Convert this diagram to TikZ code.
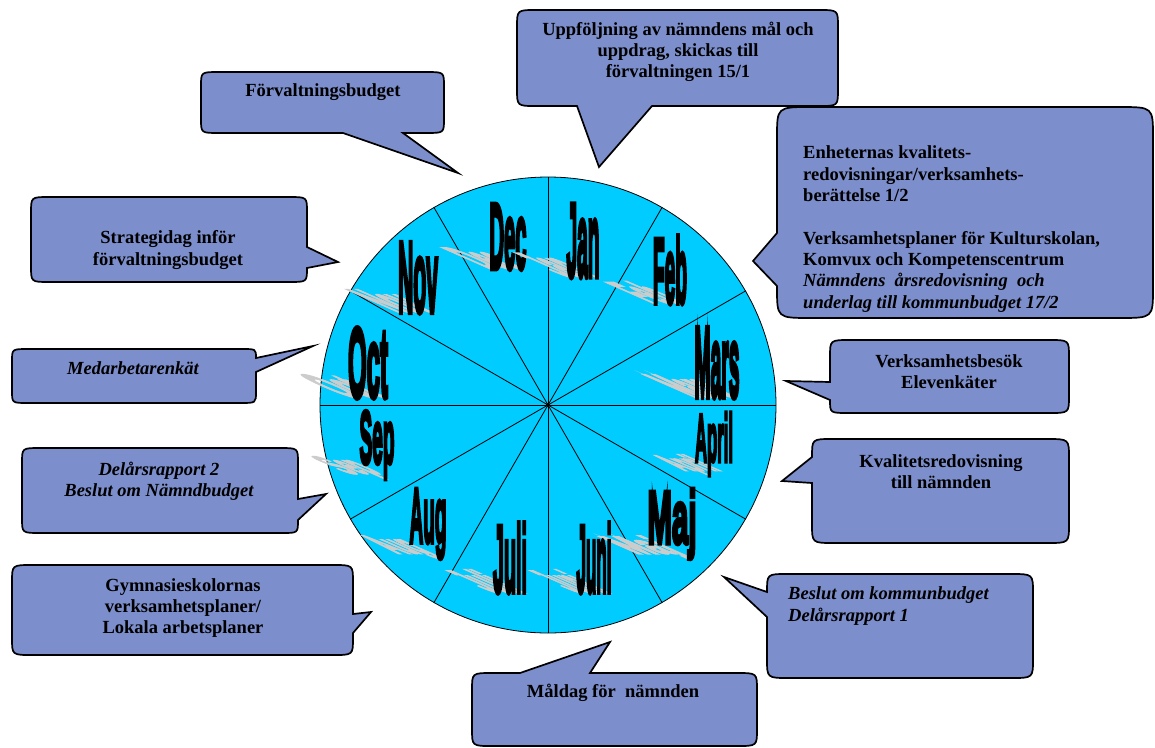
\documentclass[tikz,border=0pt]{standalone}
\usepackage{fontspec}
\setmainfont{Liberation Serif}
\newfontfamily\monthfont[FakeBold=6, BoldFeatures={FakeBold=6}]{Liberation Sans}
\usepackage{tikz}
\usetikzlibrary{calc}
\definecolor{wheelblue}{RGB}{0,204,255}
\definecolor{bubbleblue}{RGB}{124,142,203}

\begin{document}
\begin{tikzpicture}[x=1pt, y=-1pt,
    bubble/.style={draw=black, line width=1.7pt, fill=bubbleblue, line join=miter},
    note/.style={align=center, inner sep=0pt,
      font=\bfseries\fontsize{18.5}{21.3}\selectfont},
    month/.style={inner sep=0pt, font=\monthfont\bfseries},
    month shadow/.style={month, anchor=south, text=gray!40, yscale=.33, xslant=-.75}]
    \useasboundingbox (0,0) rectangle (1155,747);

    % Uppföljning
    \draw[bubble] (678,10) -- (819,10) .. controls (838,10) .. (838,27) -- (838,89)
      .. controls (838,106) .. (819,106) -- (652,106) -- (599,167) -- (577,106)
      -- (536,106) .. controls (517,106) .. (517,89) -- (517,27)
      .. controls (517,10) .. (536,10) -- cycle;
    \node[note] (upp) at (678,52) {Uppföljning av nämndens mål och\\uppdrag, skickas till\\förvaltningen 15/1};

    % Förvaltningsbudget
    \draw[bubble] (320,72) -- (426,72) .. controls (444,72) .. (444,86) -- (444,119)
      .. controls (444,133) .. (426,133) -- (403,133) -- (458,173) -- (343,133)
      -- (219,133) .. controls (201,133) .. (201,119) -- (201,86)
      .. controls (201,72) .. (219,72) -- cycle;
    \node[note] (fbudget) at (323,92) {Förvaltningsbudget};

    % Strategidag
    \draw[bubble] (170,197) -- (289,197) .. controls (307,197) .. (307,212) -- (307,247)
      -- (338,262) -- (307,268) -- (307,268) .. controls (307,282) .. (289,282)
      -- (49,282) .. controls (31,282) .. (31,266) -- (31,213)
      .. controls (31,197) .. (49,197) -- cycle;
    \node[note] (strat) at (168,250) {Strategidag inför\\förvaltningsbudget};

    % Medarbetarenkät
    \draw[bubble] (134,349) -- (242,349) .. controls (256,349) .. (256,358) -- (313,346)
      -- (256,372) -- (256,392) .. controls (256,403) .. (240,403)
      -- (28,403) .. controls (12,403) .. (12,391) -- (12,361)
      .. controls (12,349) .. (28,349) -- cycle;
    \node[note, font=\bfseries\itshape\fontsize{18.5}{21.3}\selectfont] (enkat) at (133,368) {Medarbetarenkät};

    % Delårsrapport 2
    \draw[bubble] (160,448) -- (280,448) .. controls (298,448) .. (298,463) -- (298,499)
      -- (326,494) -- (298,520) .. controls (298,533) .. (282,533)
      -- (40,533) .. controls (22,533) .. (22,518) -- (22,463)
      .. controls (22,448) .. (40,448) -- cycle;
    \node[note, font=\bfseries\itshape\fontsize{18.5}{21.3}\selectfont] (delar) at (159,481) {Delårsrapport 2\\Beslut om Nämndbudget};

    % Gymnasieskolornas
    \draw[bubble] (180,565) -- (333,565) .. controls (353,565) .. (353,582) -- (353,614)
      -- (371,612) -- (353,633) -- (353,638) .. controls (353,655) .. (333,655)
      -- (32,655) .. controls (12,655) .. (12,638) -- (12,582)
      .. controls (12,565) .. (32,565) -- cycle;
    \node[note] (gymn) at (183,608) {Gymnasieskolornas\\verksamhetsplaner/\\Lokala arbetsplaner};

    % Måldag
    \draw[bubble] (680,673) -- (737,673) .. controls (757,673) .. (757,690) -- (757,729)
      .. controls (757,746) .. (737,746) -- (492,746) .. controls (472,746) .. (472,729)
      -- (472,690) .. controls (472,673) .. (492,673) -- (520,673) -- (610,642)
      -- (590,673) -- cycle;
    \node[note] (maldag) at (613,693) {Måldag för\ \ nämnden};

    % Beslut om kommunbudget
    \draw[bubble] (900,574) -- (1011,574) .. controls (1033,574) .. (1033,593) -- (1033,659)
      .. controls (1033,678) .. (1011,678) -- (789,678) .. controls (767,678) .. (767,659)
      -- (767,617) -- (724,577) -- (767,592) .. controls (767,574) .. (787,574) -- cycle;
    \node[note, align=left, anchor=west, font=\bfseries\itshape\fontsize{18.5}{21.3}\selectfont] (kbudget) at (788,606) {Beslut om kommunbudget\\Delårsrapport 1};

    % Kvalitetsredovisning
    \draw[bubble] (940,439) -- (1047,439) .. controls (1069,439) .. (1069,458) -- (1069,524)
      .. controls (1069,543) .. (1047,543) -- (834,543) .. controls (812,543) .. (812,524)
      -- (812,483) -- (782,481) -- (812,457) .. controls (812,439) .. (832,439) -- cycle;
    \node[note] (kval) at (941,472) {Kvalitetsredovisning\\till nämnden};

    % Verksamhetsbesök
    \draw[bubble] (950,340) -- (1049,340) .. controls (1069,340) .. (1069,357) -- (1069,396)
      .. controls (1069,413) .. (1049,413) -- (848,413) .. controls (830,413) .. (830,400)
      -- (786,381) -- (830,382) -- (830,357) .. controls (830,340) .. (850,340) -- cycle;
    \node[note] (besok) at (949,372) {Verksamhetsbesök\\Elevenkäter};

    % Enheternas kvalitetsredovisningar
    \draw[bubble] (960,107) -- (1119,107) .. controls (1153,107) .. (1153,137) -- (1153,288)
      .. controls (1153,318) .. (1119,318) -- (811,318) .. controls (777,318) .. (777,288)
      -- (777,286) -- (753,261) -- (777,233) -- (777,137)
      .. controls (777,107) .. (811,107) -- cycle;
    \node[note, align=left, anchor=west] (enh) at (803,229) {Enheternas kvalitets-\\redovisningar/verksamhets-\\berättelse 1/2\\[21.3pt]Verksamhetsplaner för Kulturskolan,\\Komvux och Kompetenscentrum\\{\itshape Nämndens\ \ årsredovisning\ \ och}\\{\itshape underlag till kommunbudget 17/2}};

    % the wheel
    \coordinate (hub) at (548,405);
    \draw[fill=wheelblue, line width=.8pt] (hub) circle (228pt);
    \foreach \a in {0,30,...,330}
      \draw[line width=.8pt] (hub) -- ++(\a:228pt);
    \fill (hub) circle (2pt);

    % months
    \foreach \m/\x/\y/\w/\h in {Dec/508/237/37/65, Jan/583/241/33/73, Feb/670/270/34/68,
        Mars/717/363/45/70, April/714/444/38/63, Maj/672/524/49/70, Juni/594/558/35/70,
        Juli/510/558/34/70, Aug/428/524/37/70, Sep/377/445/35/68, Oct/368/363/40/70,
        Nov/418/278/40/70} {
      \node[month shadow] at (\x,\y+\h/2) {\resizebox*{\w pt}{\h pt}{\m}};
      \node[month] (\m) at (\x,\y) {\resizebox*{\w pt}{\h pt}{\m}};
    }
\end{tikzpicture}
\end{document}
